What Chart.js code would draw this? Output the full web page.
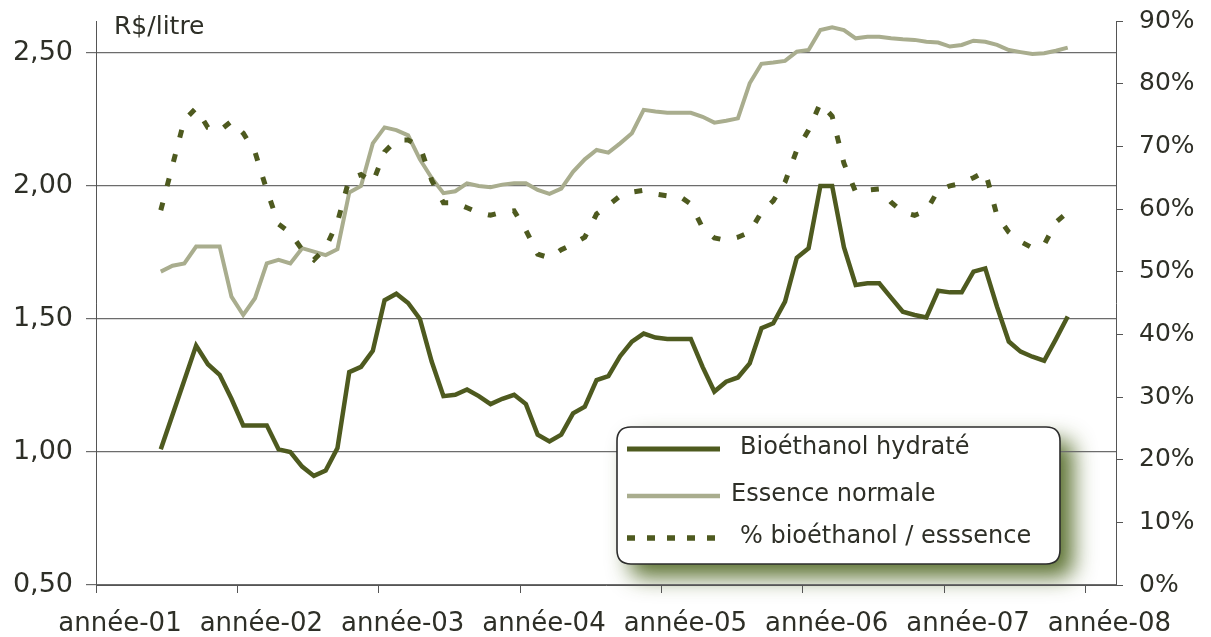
<!DOCTYPE html>
<html><head><meta charset="utf-8">
<script src="https://cdn.jsdelivr.net/npm/chart.js@4.4.1/dist/chart.umd.min.js"></script>
<style>html,body{margin:0;padding:0;background:#fff;} canvas{display:block;}</style>
</head><body>
<canvas id="c" width="1211" height="637"></canvas>
<script>
// ---- data ----
const yearLabels = ['année-01','année-02','année-03','année-04','année-05','année-06','année-07','année-08'];
const yearTicks = [0,12,24,36,48,60,72,84];           // month index of each year start
const firstMonth = 5;                                  // month index of the first observation
const bioethanol = [
 1.01,1.14,1.27,1.40,1.33,1.29,1.20,1.10,1.10,1.10,1.01,1.00,0.945,0.91,0.93,1.015,
 1.30,1.32,1.38,1.57,1.595,1.56,1.50,1.34,1.21,1.215,1.235,1.21,1.18,1.20,1.215,1.18,
 1.065,1.04,1.065,1.145,1.17,1.27,1.285,1.36,1.415,1.445,1.43,1.425,1.425,1.425,1.32,1.227,
 1.264,1.28,1.333,1.465,1.484,1.565,1.73,1.766,2.00,2.00,1.77,1.628,1.634,1.634,1.58,1.527,
 1.515,1.506,1.606,1.60,1.60,1.678,1.69,1.546,1.415,1.377,1.358,1.343,1.424,1.509];
const essence = [
 1.678,1.70,1.709,1.772,1.772,1.772,1.584,1.515,1.578,1.709,1.722,1.709,1.766,1.753,1.74,1.762,
 1.975,2.00,2.16,2.22,2.21,2.19,2.10,2.03,1.973,1.98,2.01,2.00,1.995,2.005,2.01,2.01,
 1.985,1.97,1.99,2.053,2.10,2.135,2.125,2.16,2.198,2.286,2.28,2.275,2.275,2.275,2.26,2.238,
 2.245,2.254,2.386,2.459,2.464,2.47,2.505,2.511,2.586,2.596,2.586,2.555,2.561,2.561,2.555,2.551,
 2.549,2.542,2.539,2.524,2.53,2.546,2.542,2.53,2.511,2.503,2.496,2.499,2.508,2.52];
const ratioPct = [
 59.8,67.0,74.2,76.1,73.0,72.5,74.0,72.1,69.1,63.0,57.6,56.2,53.5,51.9,53.8,57.9,
 64.8,65.5,64.2,69.1,71.0,71.0,70.0,64.6,61.0,61.0,60.2,59.4,59.0,59.5,59.7,56.6,
 52.8,52.2,53.5,54.4,55.5,59.2,60.6,62.1,62.7,63.0,62.4,62.1,62.1,60.8,57.0,55.4,
 55.0,55.5,56.3,59.5,61.3,64.3,69.4,72.6,76.9,74.8,67.3,62.7,63.0,63.2,61.1,59.5,
 59.0,59.7,63.0,63.7,64.1,65.0,66.0,58.9,56.3,54.8,53.8,54.3,57.9,59.5];
const leftTicks = [0.5,1.0,1.5,2.0,2.5];
const rightTicks = [0,10,20,30,40,50,60,70,80,90];
const seriesNames = ['Bioéthanol hydraté','Essence normale','% bioéthanol / esssence'];
const unitLabel = 'R$/litre';

// ---- styling ----
const FONT = 'DejaVu Sans';
const TEXT = '#2e2f27';
const DARK = '#4e5a1f';
const LIGHT = '#a9ad8e';
const GRID = '#6c6c6c';
Chart.defaults.font.family = FONT;
Chart.defaults.color = TEXT;

const toPoints = arr => arr.map((v, i) => ({x: firstMonth + i + 0.5, y: v}));

function rr(ctx, x, y, w, h, r) {
  ctx.beginPath();
  ctx.moveTo(x + r, y);
  ctx.lineTo(x + w - r, y); ctx.quadraticCurveTo(x + w, y, x + w, y + r);
  ctx.lineTo(x + w, y + h - r); ctx.quadraticCurveTo(x + w, y + h, x + w - r, y + h);
  ctx.lineTo(x + r, y + h); ctx.quadraticCurveTo(x, y + h, x, y + h - r);
  ctx.lineTo(x, y + r); ctx.quadraticCurveTo(x, y, x + r, y);
  ctx.closePath();
}
const LBOX = {x: 617, y: 427, w: 443, h: 137, r: 14};

const boxLegend = {
  id: 'boxLegend',
  beforeDraw(chart) {
    const ctx = chart.ctx;
    ctx.save();
    ctx.shadowColor = 'rgba(62,88,12,0.85)';
    ctx.shadowBlur = 22;
    ctx.shadowOffsetX = 13;
    ctx.shadowOffsetY = 13;
    rr(ctx, LBOX.x, LBOX.y, LBOX.w, LBOX.h, LBOX.r);
    ctx.fillStyle = '#ffffff';
    ctx.fill();
    ctx.restore();
  },
  afterDraw(chart) {
    const ctx = chart.ctx;
    ctx.save();
    rr(ctx, LBOX.x, LBOX.y, LBOX.w, LBOX.h, LBOX.r);
    ctx.fillStyle = '#ffffff';
    ctx.fill();
    ctx.lineWidth = 1.6;
    ctx.strokeStyle = '#2c2c2c';
    ctx.stroke();
    const rows = [
      {y: 449, tx: 740, ds: 0, dash: []},
      {y: 496, tx: 731, ds: 1, dash: []},
      {y: 538, tx: 740, ds: 2, dash: [8, 12]}
    ];
    rows.forEach(r => {
      const d = chart.data.datasets[r.ds];
      ctx.beginPath();
      ctx.setLineDash(r.dash);
      ctx.lineWidth = d.borderWidth + 0.5;
      ctx.strokeStyle = d.borderColor;
      ctx.moveTo(627, r.y); ctx.lineTo(720, r.y);
      ctx.stroke();
      ctx.setLineDash([]);
      ctx.font = '24px "' + FONT + '"';
      ctx.fillStyle = TEXT;
      ctx.textBaseline = 'middle';
      ctx.textAlign = 'left';
      ctx.fillText(d.label, r.tx, r.y - 1);
    });
    // unit label of the left axis
    ctx.font = '25px "' + FONT + '"';
    ctx.fillStyle = TEXT;
    ctx.textBaseline = 'middle';
    ctx.fillText(unitLabel, 114, 27);
    ctx.restore();
  }
};

new Chart(document.getElementById('c'), {
  type: 'line',
  data: {
    datasets: [
      {label: seriesNames[0], data: toPoints(bioethanol), yAxisID: 'y',
       borderColor: DARK, borderWidth: 4.5, pointRadius: 0, tension: 0, order: 1},
      {label: seriesNames[1], data: toPoints(essence), yAxisID: 'y',
       borderColor: LIGHT, borderWidth: 4, pointRadius: 0, tension: 0, order: 2},
      {label: seriesNames[2], data: toPoints(ratioPct), yAxisID: 'y1',
       borderColor: DARK, borderWidth: 5, borderDash: [8, 17], pointRadius: 0, tension: 0, order: 0}
    ]
  },
  options: {
    responsive: false,
    animation: false,
    layout: {padding: {top: 21, left: 0, right: 0, bottom: 0}},
    plugins: {legend: {display: false}, tooltip: {enabled: false}},
    scales: {
      x: {
        type: 'linear', min: 0, max: 86.6,
        afterBuildTicks: s => { s.ticks = yearTicks.map(v => ({value: v})); },
        afterFit: s => { s.height = 52; s.paddingLeft = 0; s.paddingRight = 0; },
        ticks: {
          callback: v => yearLabels[yearTicks.indexOf(v)],
          font: {size: 26}, padding: 16, labelOffset: 24, maxRotation: 0, autoSkip: false
        },
        grid: {drawOnChartArea: false, tickLength: 8, color: '#555'},
        border: {color: '#555', width: 1}
      },
      y: {
        position: 'left', min: 0.5, max: 2.62,
        afterBuildTicks: s => { s.ticks = leftTicks.map(v => ({value: v})); },
        afterFit: s => { s.width = 96; s.paddingTop = 0; s.paddingBottom = 0; },
        ticks: {callback: v => v.toFixed(2).replace('.', ','), font: {size: 27}, padding: 13},
        grid: {color: GRID, lineWidth: 1.2, tickLength: 10},
        border: {color: '#555', width: 1}
      },
      y1: {
        position: 'right', min: 0, max: 90,
        afterBuildTicks: s => { s.ticks = rightTicks.map(v => ({value: v})); },
        afterFit: s => { s.width = 95; s.paddingTop = 0; s.paddingBottom = 0; },
        ticks: {callback: v => v + '%', font: {size: 25}, padding: 16},
        grid: {drawOnChartArea: false, tickLength: 7, color: '#555'},
        border: {color: '#555', width: 1}
      }
    }
  },
  plugins: [boxLegend]
});
</script>
</body></html>
